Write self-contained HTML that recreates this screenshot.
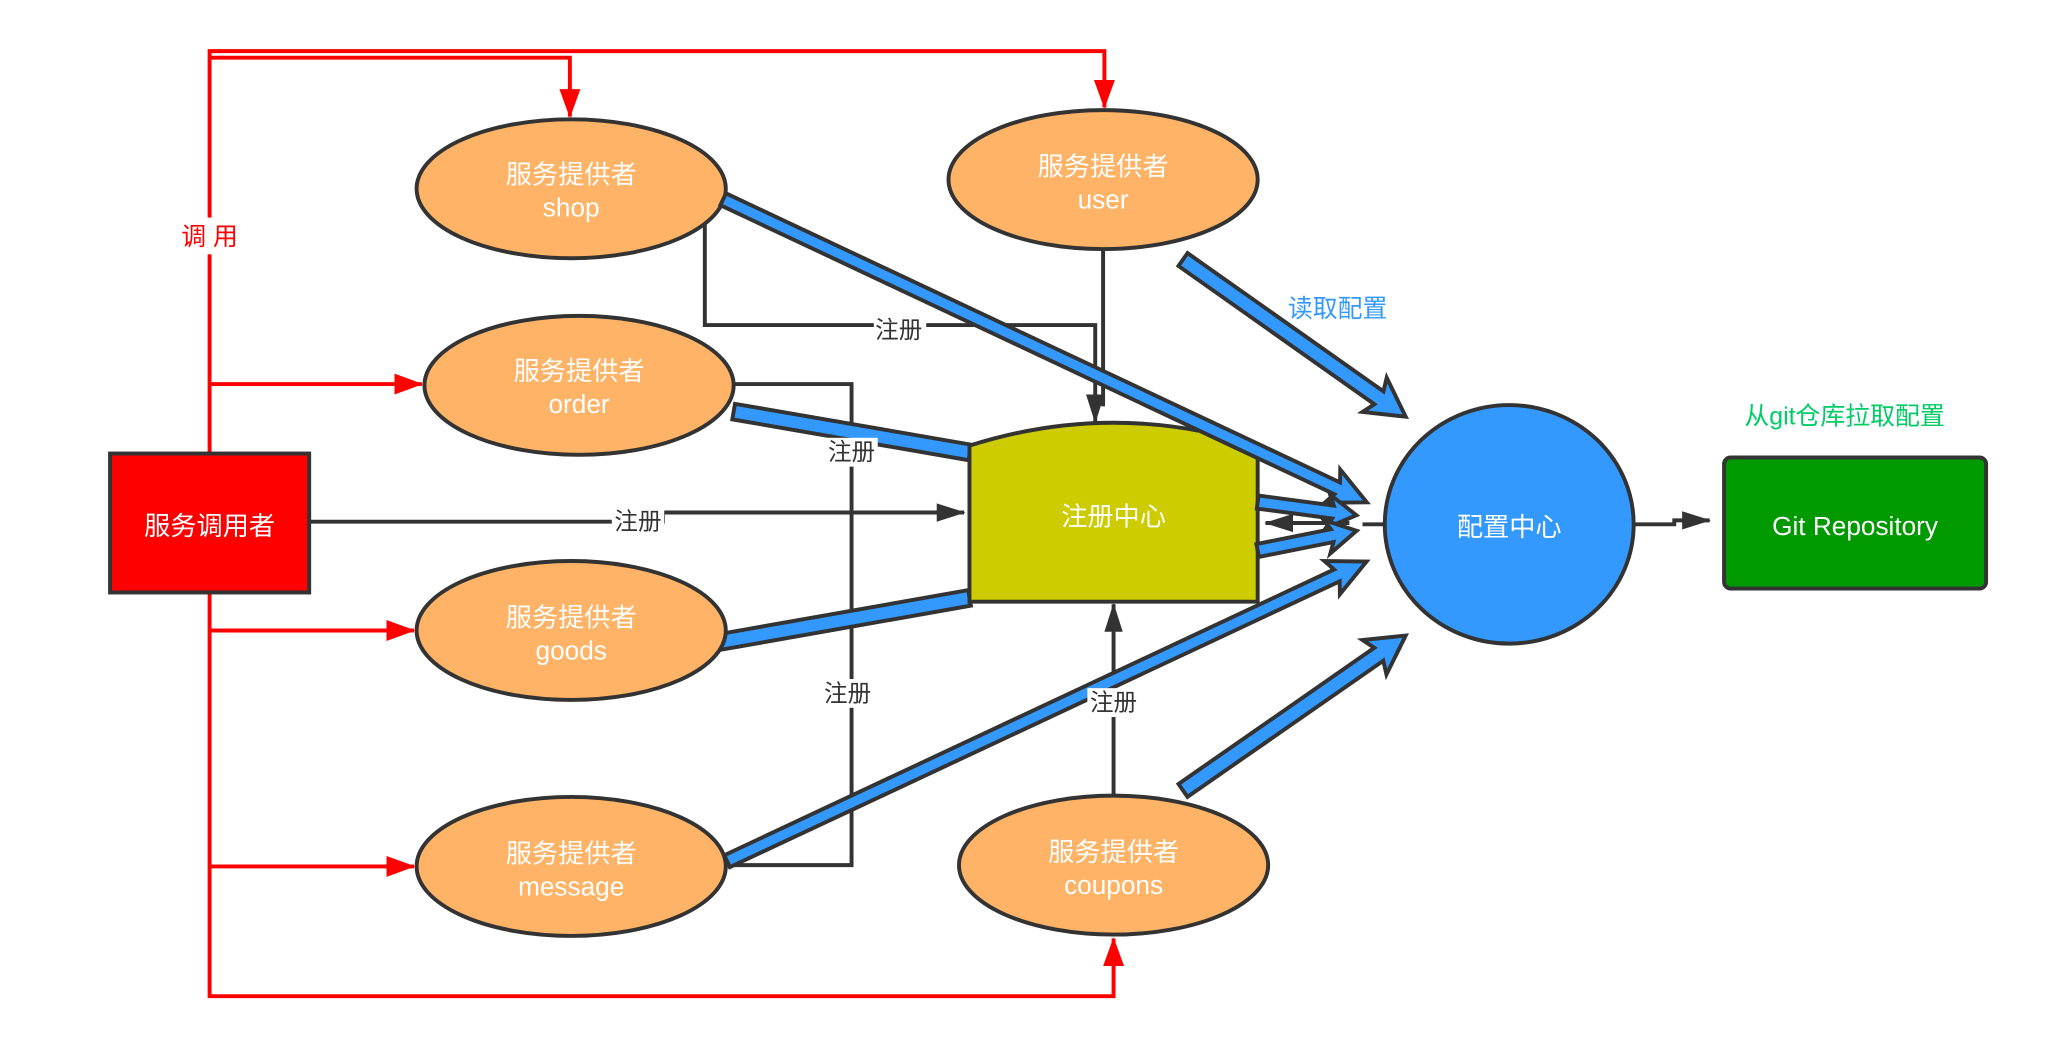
<!DOCTYPE html>
<html><head><meta charset="utf-8"><style>
html,body{margin:0;padding:0;background:#fff;}
svg{display:block;}
text{font-family:"Liberation Sans","Noto Sans CJK SC",sans-serif;}
</style></head><body>
<svg width="2054" height="1046" viewBox="0 0 1560 794" preserveAspectRatio="none" xmlns="http://www.w3.org/2000/svg">
<defs>
<marker id="rr" viewBox="0 0 22 22" markerWidth="22" markerHeight="22" refX="21" refY="11" orient="auto" markerUnits="userSpaceOnUse"><path d="M0,3 L22,11 L0,19 Z" fill="red"/></marker>
<marker id="bk" viewBox="0 0 22 22" markerWidth="22" markerHeight="22" refX="21" refY="11" orient="auto" markerUnits="userSpaceOnUse"><path d="M0,4 L22,11 L0,18 Z" fill="#333"/></marker>
</defs>
<g transform="scale(0.995)">
<g fill="none" stroke="red" stroke-width="3">
<path d="M160,345 V39 H843 V82" marker-end="url(#rr)"/>
<path d="M160,44 H435 V89" marker-end="url(#rr)"/>
<path d="M160,293 H322" marker-end="url(#rr)"/>
<path d="M160,453 V760 H850 V716" marker-end="url(#rr)"/>
<path d="M160,481 H316" marker-end="url(#rr)"/>
<path d="M160,661 H316" marker-end="url(#rr)"/>
</g>
<rect x="130" y="166" width="60" height="28" fill="#fff"/>
<text x="160" y="187" font-size="19" fill="red" text-anchor="middle">调 用</text>
<g fill="none" stroke="#333" stroke-width="3">
<path d="M538,170 V248 H836 V322" marker-end="url(#bk)"/>
<path d="M842,190 V310"/>
<path d="M560,293 H650 V660 H555"/>
<path d="M237,398 H506 V391 H736" marker-end="url(#bk)"/>
<path d="M850,607 V461" marker-end="url(#bk)"/>
<path d="M1057,400 H1040"/>
<path d="M1030,399 H966" marker-end="url(#bk)"/>
<path d="M1248,400 H1278 V397 H1305" marker-end="url(#bk)"/>
</g>
<g fill="#3399FF" stroke="#333" stroke-width="3" stroke-linejoin="miter">
<path transform="translate(560,314) rotate(9.8)" d="M0,-6 L183,-6 L183,6 L0,6 Z"/>
<path transform="translate(548,490) rotate(-10)" d="M0,-6 L195,-6 L195,6 L0,6 Z"/>
</g>
<g fill="#FFB366" stroke="#333" stroke-width="3">
<ellipse cx="436" cy="144" rx="118" ry="53"/>
<ellipse cx="842" cy="137" rx="118" ry="53"/>
<ellipse cx="442" cy="294" rx="118" ry="53"/>
<ellipse cx="436" cy="481" rx="118" ry="53"/>
<ellipse cx="436" cy="661" rx="118" ry="53"/>
<ellipse cx="850" cy="660" rx="118" ry="53"/>
</g>
<g fill="#fff" font-size="20" text-anchor="middle">
<text x="436" y="140">服务提供者</text><text x="436" y="165">shop</text>
<text x="842" y="134">服务提供者</text><text x="842" y="159">user</text>
<text x="442" y="290">服务提供者</text><text x="442" y="315">order</text>
<text x="436" y="478">服务提供者</text><text x="436" y="503">goods</text>
<text x="436" y="658">服务提供者</text><text x="436" y="683">message</text>
<text x="850" y="657">服务提供者</text><text x="850" y="682">coupons</text>
</g>
<rect x="84" y="346" width="152" height="106" fill="red" stroke="#333" stroke-width="3"/>
<text x="160" y="408" fill="#fff" font-size="20" text-anchor="middle">服务调用者</text>
<path d="M740,340 Q850,305 960,340 V459 H740 Z" fill="#CCCC00" stroke="#333" stroke-width="3"/>
<text x="850" y="401" fill="#fff" font-size="20" text-anchor="middle">注册中心</text>
<ellipse cx="1152" cy="400" rx="95" ry="91" fill="#3399FF" stroke="#333" stroke-width="3"/>
<text x="1152" y="409" fill="#fff" font-size="20" text-anchor="middle">配置中心</text>
<rect x="1316" y="349" width="200" height="100" rx="5" fill="#009900" stroke="#333" stroke-width="3"/>
<text x="1416" y="408" fill="#fff" font-size="20" text-anchor="middle">Git Repository</text>
<g fill="#3399FF" stroke="#333" stroke-width="3" stroke-linejoin="miter">
<path transform="translate(552,152) rotate(25.2)" d="M0,-5 L518,-5 L514,-14 L543,0 L514,14 L518,5 L0,5 Z"/>
<path transform="translate(555,657) rotate(-25.1)" d="M0,-5 L514,-5 L510,-14 L539,0 L510,14 L514,5 L0,5 Z"/>
<path transform="translate(903,198) rotate(35.2)" d="M0,-6 L183,-6 L179,-16 L208,0 L179,16 L183,6 L0,6 Z"/>
<path transform="translate(903,603) rotate(-34.8)" d="M0,-6 L182,-6 L178,-16 L207,0 L178,16 L182,6 L0,6 Z"/>
<path transform="translate(960,383) rotate(7.6)" d="M0,-5 L58,-5 L54,-13 L76,0 L54,13 L58,5 L0,5 Z"/>
<path transform="translate(960,420) rotate(-11.3)" d="M0,-5 L58,-5 L54,-13 L77,0 L54,13 L58,5 L0,5 Z"/>
</g>
<g font-size="18" fill="#333" text-anchor="middle">
<rect x="667" y="241" width="40" height="22" fill="#fff"/><text x="686" y="258">注册</text>
<rect x="630" y="334" width="40" height="22" fill="#fff"/><text x="650" y="351">注册</text>
<rect x="467" y="387" width="40" height="22" fill="#fff"/><text x="487" y="404">注册</text>
<rect x="627" y="518" width="40" height="22" fill="#fff"/><text x="647" y="535">注册</text>
<rect x="830" y="525" width="40" height="22" fill="#fff"/><text x="850" y="542">注册</text>
</g>
<text x="1021" y="242" font-size="19" fill="#3399FF" text-anchor="middle">读取配置</text>
<text x="1408" y="324" font-size="19" fill="#00CC66" text-anchor="middle">从git仓库拉取配置</text>
</g>
</svg>
</body></html>
